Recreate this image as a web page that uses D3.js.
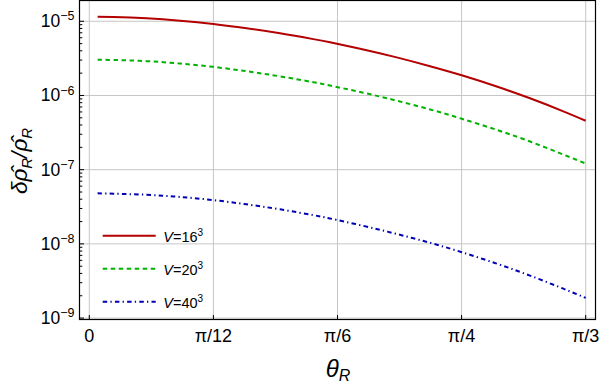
<!DOCTYPE html>
<html>
<head>
<meta charset="utf-8">
<script src="https://cdn.jsdelivr.net/npm/d3@7"></script>
<style>
body { margin: 0; background: #fff; }
text { font-family: "Liberation Sans", Arial, sans-serif; fill: #000; }
</style>
</head>
<body>
<svg id="chart" width="600" height="384"></svg>
<script>
"use strict";

// values
var thetaR = [0.0175, 0.0506, 0.1211, 0.1914, 0.2616, 0.3321, 0.4023, 0.4726, 0.5078,
	0.5781, 0.6485, 0.7188, 0.7857, 0.8595, 0.9297, 1.0, 1.0472];
var v16 = [1.153e-5, 1.143e-5, 1.096e-5, 1.019e-5, 9.20e-6, 8.05e-6, 6.89e-6, 5.75e-6, 5.20e-6,
	4.17e-6, 3.26e-6, 2.48e-6, 1.87e-6, 1.32e-6, 9.16e-7, 6.12e-7, 4.57e-7];
var v20 = [3.04e-6, 3.01e-6, 2.90e-6, 2.69e-6, 2.43e-6, 2.12e-6, 1.81e-6, 1.51e-6, 1.36e-6,
	1.09e-6, 8.51e-7, 6.49e-7, 4.86e-7, 3.44e-7, 2.40e-7, 1.60e-7, 1.21e-7];
var v40 = [4.81e-8, 4.75e-8, 4.59e-8, 4.29e-8, 3.89e-8, 3.41e-8, 2.92e-8, 2.44e-8, 2.20e-8,
	1.75e-8, 1.36e-8, 1.035e-8, 7.73e-9, 5.42e-9, 3.74e-9, 2.49e-9, 1.87e-9];
var xTickVals = [0, Math.PI / 12, Math.PI / 6, Math.PI / 4, Math.PI / 3];
var xTickLabels = ["0", "π/12", "π/6", "π/4", "π/3"];
var yExponents = [-9, -8, -7, -6, -5];
var seriesNames = ["16", "20", "40"];

var svg = d3.select("#chart");
var pLeft = 79.5, pRight = 595.5, pTop = 0.5, pBottom = 319.5;

var x = d3.scaleLinear().domain([-0.0207, 1.0679]).range([pLeft, pRight]);
var y = d3.scaleLog().domain([Math.pow(10, -9.019), Math.pow(10, -4.720)]).range([pBottom, pTop]);

var series = [
	{ name: seriesNames[0], values: v16, color: "#b30000", dash: null },
	{ name: seriesNames[1], values: v20, color: "#00b300", dash: "4.5,3.5" },
	{ name: seriesNames[2], values: v40, color: "#0000b3", dash: "4.5,3.2,1.3,3.2" }
];

//---- grid
var grid = svg.append("g").attr("stroke", "#c6c6c6").attr("stroke-width", 1);
xTickVals.forEach(function(t) {
	grid.append("line").attr("x1", x(t)).attr("x2", x(t)).attr("y1", pTop).attr("y2", pBottom);
});
yExponents.forEach(function(e) {
	var yy = y(Math.pow(10, e));
	grid.append("line").attr("x1", pLeft).attr("x2", pRight).attr("y1", yy).attr("y2", yy);
});

//---- curves
var line = d3.line()
	.x(function(d) { return x(d[0]); })
	.y(function(d) { return y(d[1]); })
	.curve(d3.curveNatural);

series.forEach(function(s) {
	svg.append("path")
		.datum(thetaR.map(function(t, i) { return [t, s.values[i]]; }))
		.attr("fill", "none")
		.attr("stroke", s.color)
		.attr("stroke-width", 2)
		.attr("stroke-dasharray", s.dash)
		.attr("d", line);
});

//---- frame
svg.append("rect")
	.attr("x", pLeft).attr("y", pTop)
	.attr("width", pRight - pLeft).attr("height", pBottom - pTop)
	.attr("fill", "none").attr("stroke", "#000").attr("stroke-width", 1.2);

//---- ticks (inside, left and bottom only)
var ticks = svg.append("g").attr("stroke", "#000").attr("stroke-width", 1);
xTickVals.forEach(function(t) {
	ticks.append("line").attr("x1", x(t)).attr("x2", x(t)).attr("y1", pBottom).attr("y2", pBottom - 4.5);
});
yExponents.forEach(function(e) {
	for (var m = 1; m <= 9; m++) {
		var v = m * Math.pow(10, e);
		if (v > y.domain()[1]) continue;
		var yy = y(v);
		ticks.append("line").attr("x1", pLeft).attr("x2", pLeft + (m == 1 ? 4.5 : 2.8))
			.attr("y1", yy).attr("y2", yy);
	}
});

//---- tick labels
xTickVals.forEach(function(t, i) {
	svg.append("text")
		.attr("x", x(t)).attr("y", 341.5)
		.attr("text-anchor", "middle")
		.style("font-size", "18px")
		.text(xTickLabels[i]);
});
yExponents.forEach(function(e) {
	var lab = svg.append("text")
		.attr("x", 74.5).attr("y", y(Math.pow(10, e)) + 6)
		.attr("text-anchor", "end")
		.style("font-size", "17.5px");
	lab.append("tspan").text("10");
	lab.append("tspan").attr("dy", -6.8).style("font-size", "12.5px").text("\u2212" + (-e));
});

//---- axis titles
var xt = svg.append("text")
	.attr("x", 338).attr("y", 377)
	.attr("text-anchor", "middle")
	.style("font-size", "24px").style("font-style", "italic");
xt.append("tspan").text("θ");
xt.append("tspan").attr("dy", 4).style("font-size", "16px").text("R");

var yt = svg.append("text")
	.attr("transform", "translate(27,161) rotate(-90)")
	.attr("text-anchor", "middle")
	.style("font-size", "22.5px").style("font-style", "italic");
yt.append("tspan").text("δρ\u0302");
yt.append("tspan").attr("dy", 5).style("font-size", "15px").text("R");
yt.append("tspan").attr("dy", -5).text("/ρ\u0302");
yt.append("tspan").attr("dy", 5).style("font-size", "15px").text("R");

//---- legend
var legend = svg.append("g").attr("class", "legend");
series.forEach(function(s, i) {
	var ly = 235.7 + i * 33;
	legend.append("line")
		.attr("x1", 102.7).attr("x2", 155.7).attr("y1", ly).attr("y2", ly)
		.attr("stroke", s.color).attr("stroke-width", 2)
		.attr("stroke-dasharray", s.dash);
	var t = legend.append("text")
		.attr("x", 163.3).attr("y", ly + 6)
		.style("font-size", "14.5px");
	t.append("tspan").style("font-style", "italic").text("V");
	t.append("tspan").text("=" + s.name);
	t.append("tspan").attr("dy", -6).style("font-size", "10px").text("3");
});
</script>
</body>
</html>
